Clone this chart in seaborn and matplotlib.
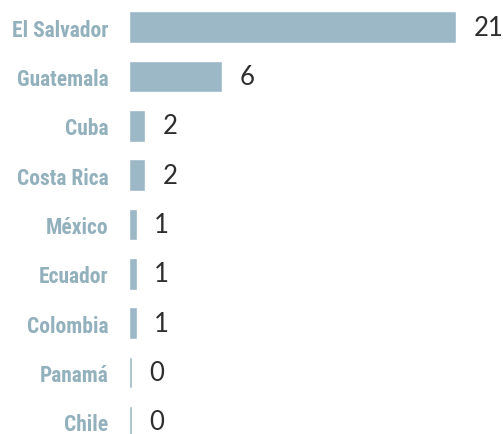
import matplotlib
matplotlib.use("Agg")
import matplotlib.pyplot as plt
import seaborn as sns
import pandas as pd

countries = ["El Salvador", "Guatemala", "Cuba", "Costa Rica", "México",
             "Ecuador", "Colombia", "Panamá", "Chile"]
# numbers printed next to the bars
counts = [21, 6, 2, 2, 1, 1, 1, 0, 0]
# bar lengths as drawn in the picture (small values get drawn shorter)
bar_lengths = [21.0, 5.97, 1.03, 1.03, 0.51, 0.51, 0.51, 0.2, 0.2]

df = pd.DataFrame({"country": countries, "length": bar_lengths, "count": counts})

sns.set_theme(style="white")
plt.rcParams["font.family"] = ["DejaVu Sans"]

BAR = "#9cb8c6"
LABEL = "#93b1bd"
TEXT = "#2e2e2e"

fig = plt.figure(figsize=(5.03, 4.35), dpi=100)
ax = fig.add_axes([129 / 503, 0.0, 374 / 503, 0.992])

sns.barplot(data=df, x="length", y="country", orient="h", color=BAR,
            saturation=1, width=0.64, ax=ax)

ax.set_xlim(0, 24)
ax.set_ylim(8.25, -0.5)
for s in ax.spines.values():
    s.set_visible(False)
ax.set_xticks([])
ax.set_xlabel("")
ax.set_ylabel("")
ax.tick_params(axis="y", length=0, pad=15)
for lab in ax.get_yticklabels():
    lab.set_fontfamily(["Roboto Condensed", "DejaVu Sans"])
    lab.set_fontweight("bold")
    lab.set_fontsize(15.5)
    lab.set_color(LABEL)

for i, (L, c) in enumerate(zip(bar_lengths, counts)):
    ax.annotate(str(c), xy=(L, i), xytext=(12.5, 0), textcoords="offset points",
                ha="left", va="center", fontsize=18.5, color=TEXT,
                family=["Lato", "DejaVu Sans"])

fig.savefig("out.png", dpi=100)
